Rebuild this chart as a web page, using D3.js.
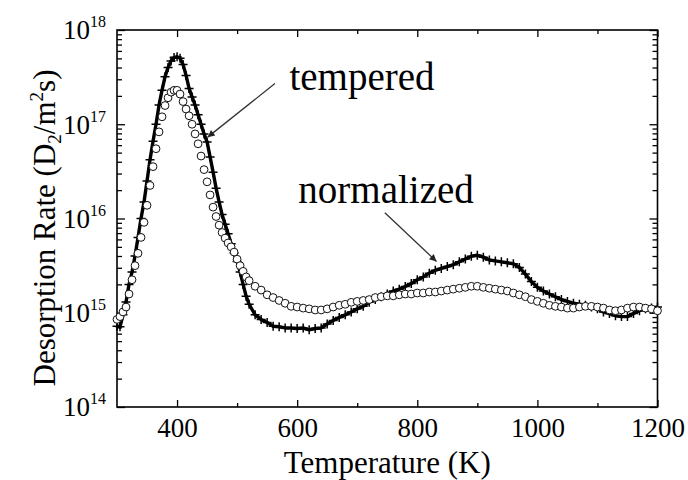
<!DOCTYPE html>
<html>
<head>
<meta charset="utf-8">
<script src="https://cdn.jsdelivr.net/npm/d3@7"></script>
<style>
  body { margin: 0; background: #fff; }
  svg { display: block; }
  text { font-family: "Liberation Serif", "Times New Roman", serif; fill: #000; }
</style>
</head>
<body>
<div id="chart"></div>
<script>
// ---------------- data ----------------
const temperature = [
  300, 305, 310, 315, 320, 325, 330, 335, 340, 345, 350, 355, 360, 365, 370, 375, 380, 385, 390, 395,
  400, 405, 410, 415, 420, 425, 430, 435, 440, 445, 450, 455, 460, 465, 470, 475, 480, 485, 490, 495,
  500, 505, 510, 515, 520, 530, 540, 550, 560, 570, 580, 590, 600, 610, 620, 630, 640, 650, 660, 670,
  680, 690, 700, 710, 720, 730, 740, 750, 760, 770, 780, 790, 800, 810, 820, 830, 840, 850, 860, 870,
  880, 890, 900, 910, 920, 930, 940, 950, 960, 970, 980, 990, 1000, 1010, 1020, 1030, 1040, 1050, 1060, 1070,
  1080, 1090, 1100, 1110, 1120, 1130, 1140, 1150, 1160, 1170, 1180, 1190, 1200
];

// "+" symbols with line
const tempered = [
  7.2e14, 7.1e14, 9.5e14, 1.3e15, 2.0e15, 2.7e15, 4.0e15, 6.3e15, 1.0e16, 1.5e16, 2.5e16, 4.2e16, 6.6e16, 1.0e17, 1.6e17, 2.3e17, 3.2e17, 4.0e17, 4.7e17, 5.1e17,
  5.2e17, 5.0e17, 4.3e17, 3.3e17, 2.4e17, 1.95e17, 1.6e17, 1.26e17, 1.0e17, 7.9e16, 6.5e16, 4.5e16, 3.1e16, 2.1e16, 1.5e16, 1.1e16, 8.7e15, 6.9e15, 5.4e15, 4.3e15,
  3.5e15, 2.7e15, 2.0e15, 1.5e15, 1.23e15, 9.5e14, 8.5e14, 7.9e14, 7.2e14, 7.1e14, 6.9e14, 6.9e14, 6.8e14, 6.9e14, 6.6e14, 6.8e14, 6.9e14, 7.6e14, 8.3e14, 8.9e14,
  9.5e14, 1.02e15, 1.10e15, 1.17e15, 1.29e15, 1.38e15, 1.48e15, 1.58e15, 1.70e15, 1.78e15, 1.90e15, 2.04e15, 2.24e15, 2.40e15, 2.63e15, 2.82e15, 2.95e15, 3.09e15, 3.24e15, 3.47e15,
  3.72e15, 3.98e15, 4.07e15, 3.89e15, 3.63e15, 3.55e15, 3.47e15, 3.39e15, 3.31e15, 3.02e15, 2.57e15, 2.14e15, 1.86e15, 1.70e15, 1.58e15, 1.48e15, 1.38e15, 1.32e15, 1.26e15, 1.23e15,
  1.20e15, 1.15e15, 1.10e15, 1.02e15, 9.8e14, 9.3e14, 9.1e14, 9.1e14, 9.8e14, 1.05e15, 1.10e15, 1.12e15, 1.15e15
];

// open circles
const normalized = [
  8.5e14, 9.1e14, 1.02e15, 1.15e15, 1.58e15, 2.24e15, 3.16e15, 4.27e15, 6.3e15, 9.1e15, 1.38e16, 2.24e16, 3.55e16, 5.5e16, 8.3e16, 1.20e17, 1.58e17, 1.91e17, 2.19e17, 2.29e17,
  2.29e17, 2.09e17, 1.74e17, 1.45e17, 1.23e17, 1.00e17, 7.9e16, 6.2e16, 4.6e16, 3.3e16, 2.45e16, 1.78e16, 1.32e16, 1.05e16, 8.5e15, 7.1e15, 6.2e15, 5.5e15, 5.0e15, 4.4e15,
  3.7e15, 3.16e15, 2.75e15, 2.40e15, 2.19e15, 1.91e15, 1.74e15, 1.55e15, 1.45e15, 1.35e15, 1.26e15, 1.17e15, 1.15e15, 1.12e15, 1.10e15, 1.07e15, 1.07e15, 1.10e15, 1.15e15, 1.20e15,
  1.23e15, 1.29e15, 1.32e15, 1.35e15, 1.38e15, 1.45e15, 1.48e15, 1.51e15, 1.51e15, 1.55e15, 1.58e15, 1.58e15, 1.62e15, 1.62e15, 1.66e15, 1.66e15, 1.70e15, 1.74e15, 1.78e15, 1.82e15,
  1.86e15, 1.91e15, 1.91e15, 1.86e15, 1.82e15, 1.78e15, 1.74e15, 1.70e15, 1.62e15, 1.55e15, 1.48e15, 1.38e15, 1.32e15, 1.26e15, 1.20e15, 1.17e15, 1.15e15, 1.12e15, 1.12e15, 1.15e15,
  1.17e15, 1.17e15, 1.15e15, 1.12e15, 1.07e15, 1.05e15, 1.07e15, 1.12e15, 1.15e15, 1.15e15, 1.12e15, 1.10e15, 1.05e15
];

const xTicksMajor = [400, 600, 800, 1000, 1200];
const xTicksMinor = [500, 700, 900, 1100];
const yDecades = [1e14, 1e15, 1e16, 1e17, 1e18];
const yExponents = ['14', '15', '16', '17', '18'];

// annotations: label centre (T, rate), arrow from / to (T, rate)
const notes = [
  { label: 'tempered',   at: [708, 2.3e17],  from: [563, 2.7e17],  to: [451, 7.3e16] },
  { label: 'normalized', at: [748, 1.45e16], from: [746, 1.15e16], to: [832, 3.5e15] }
];

// ---------------- layout ----------------
const W = 688, H = 480;
const margin = { top: 30, right: 30.5, bottom: 73, left: 117 };

const svg = d3.select('#chart').append('svg')
  .attr('width', W)
  .attr('height', H);

const x = d3.scaleLinear()
  .domain([300, 1200])
  .range([margin.left, W - margin.right]);

const y = d3.scaleLog()
  .domain([1e14, 1e18])
  .range([H - margin.bottom, margin.top]);

const x0 = margin.left, x1 = W - margin.right;
const y0 = H - margin.bottom, y1 = margin.top;

// ---------------- axes (ticks inward) ----------------
const styleAxis = g => {
  g.attr('font-family', null);
  g.select('.domain').remove();
  g.selectAll('.tick line').attr('stroke', '#000').attr('stroke-width', 1.3);
};

// bottom
svg.append('g')
  .attr('transform', `translate(0,${y0})`)
  .call(d3.axisBottom(x).tickValues(xTicksMajor).tickSize(-7).tickPadding(11).tickFormat(d3.format('d')))
  .call(styleAxis)
  .call(g => g.selectAll('.tick text').attr('font-size', 27));

svg.append('g')
  .attr('transform', `translate(0,${y0})`)
  .call(d3.axisBottom(x).tickValues(xTicksMinor).tickSize(-4).tickFormat(''))
  .call(styleAxis);

// top
svg.append('g')
  .attr('transform', `translate(0,${y1})`)
  .call(d3.axisTop(x).tickValues(xTicksMajor).tickSize(-7).tickFormat(''))
  .call(styleAxis);

svg.append('g')
  .attr('transform', `translate(0,${y1})`)
  .call(d3.axisTop(x).tickValues(xTicksMinor).tickSize(-4).tickFormat(''))
  .call(styleAxis);

// left / right log ticks
const yMinor = y.ticks().filter(v => !yDecades.includes(v));

[[d3.axisLeft, x0], [d3.axisRight, x1]].forEach(([axisFn, pos]) => {
  svg.append('g')
    .attr('transform', `translate(${pos},0)`)
    .call(axisFn(y).tickValues(yDecades).tickSize(-8).tickFormat(''))
    .call(styleAxis);
  svg.append('g')
    .attr('transform', `translate(${pos},0)`)
    .call(axisFn(y).tickValues(yMinor).tickSize(-5).tickFormat(''))
    .call(styleAxis);
});

// y tick labels 10^n
const yLab = svg.append('g')
  .selectAll('text')
  .data(yDecades)
  .enter()
  .append('text')
  .attr('x', x0 - 11)
  .attr('y', d => y(d))
  .attr('dy', '0.35em')
  .attr('text-anchor', 'end')
  .attr('font-size', 27);

yLab.append('tspan').text('10');
yLab.append('tspan')
  .attr('font-size', 16)
  .attr('dy', '-0.75em')
  .text((d, i) => yExponents[i]);

// frame
svg.append('rect')
  .attr('x', x0)
  .attr('y', y1)
  .attr('width', x1 - x0)
  .attr('height', y0 - y1)
  .attr('fill', 'none')
  .attr('stroke', '#000')
  .attr('stroke-width', 1.6);

// axis titles
svg.append('text')
  .attr('x', (x0 + x1) / 2)
  .attr('y', 473)
  .attr('text-anchor', 'middle')
  .attr('font-size', 31)
  .text('Temperature (K)');

const yTitle = svg.append('text')
  .attr('transform', 'translate(55,228) rotate(-90)')
  .attr('text-anchor', 'middle')
  .attr('font-size', 31);
yTitle.append('tspan').text('Desorption Rate (D');
yTitle.append('tspan').attr('font-size', 19).attr('dy', 6).text('2');
yTitle.append('tspan').attr('dy', -6).text('/m');
yTitle.append('tspan').attr('font-size', 19).attr('dy', -12).text('2');
yTitle.append('tspan').attr('dy', 12).text('s)');

// ---------------- series ----------------
const pts = vals => temperature.map((t, i) => ({ t, v: vals[i] }));
const tempPts = pts(tempered);
const normPts = pts(normalized);

const line = d3.line()
  .x(d => x(d.t))
  .y(d => y(d.v));

svg.append('path')
  .datum(tempPts)
  .attr('d', line)
  .attr('fill', 'none')
  .attr('stroke', '#000')
  .attr('stroke-width', 3.4)
  .attr('stroke-linejoin', 'round');

svg.append('g')
  .selectAll('path')
  .data(tempPts)
  .enter()
  .append('path')
  .attr('transform', d => `translate(${x(d.t)},${y(d.v)})`)
  .attr('d', 'M-4.5,0H4.5M0,-4.5V4.5')
  .attr('stroke', '#000')
  .attr('stroke-width', 1.5);

svg.append('g')
  .selectAll('circle')
  .data(normPts)
  .enter()
  .append('circle')
  .attr('cx', d => x(d.t))
  .attr('cy', d => y(d.v))
  .attr('r', 3.9)
  .attr('fill', '#fff')
  .attr('stroke', '#111')
  .attr('stroke-width', 1);

// ---------------- annotations ----------------
svg.append('defs').append('marker')
  .attr('id', 'head')
  .attr('viewBox', '0 0 10 10')
  .attr('refX', 10)
  .attr('refY', 5)
  .attr('markerWidth', 9)
  .attr('markerHeight', 7)
  .attr('markerUnits', 'userSpaceOnUse')
  .attr('orient', 'auto')
  .append('path')
  .attr('d', 'M0,0L10,5L0,10Z')
  .attr('fill', '#222');

notes.forEach(n => {
  svg.append('line')
    .attr('x1', x(n.from[0]))
    .attr('y1', y(n.from[1]))
    .attr('x2', x(n.to[0]))
    .attr('y2', y(n.to[1]))
    .attr('stroke', '#333')
    .attr('stroke-width', 1.3)
    .attr('marker-end', 'url(#head)');

  svg.append('text')
    .attr('x', x(n.at[0]))
    .attr('y', y(n.at[1]))
    .attr('text-anchor', 'middle')
    .attr('font-size', 39)
    .text(n.label);
});
</script>
</body>
</html>
